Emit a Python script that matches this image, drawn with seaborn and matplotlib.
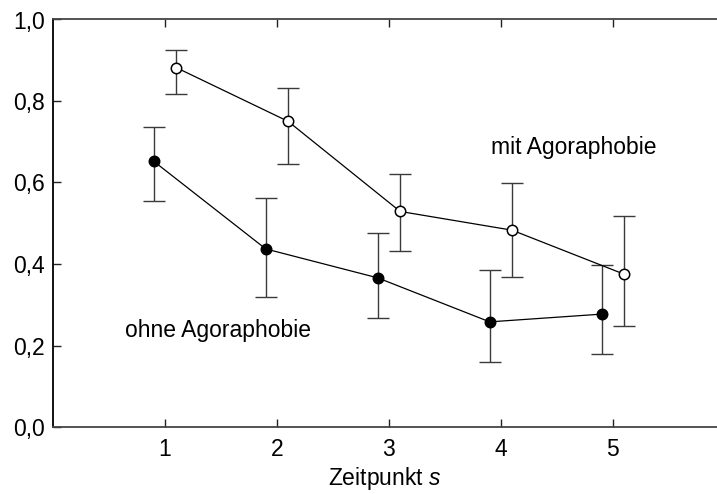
import numpy as np
import pandas as pd
import seaborn as sns
import matplotlib.pyplot as plt

# Zeitpunkte und Mittelwerte mit Fehlerbalken (untere / obere Grenze)
zeitpunkt = [1, 2, 3, 4, 5]

ohne_mean = [0.652, 0.437, 0.366, 0.258, 0.277]
ohne_low = [0.555, 0.319, 0.267, 0.160, 0.180]
ohne_high = [0.735, 0.562, 0.477, 0.386, 0.398]

mit_mean = [0.882, 0.750, 0.529, 0.483, 0.375]
mit_low = [0.818, 0.645, 0.433, 0.369, 0.249]
mit_high = [0.924, 0.832, 0.622, 0.599, 0.518]

sns.set_style("white")
plt.rcParams["font.family"] = ["Liberation Sans", "DejaVu Sans"]
plt.rcParams["mathtext.fontset"] = "custom"
plt.rcParams["mathtext.it"] = "Liberation Sans:italic"
plt.rcParams["mathtext.rm"] = "Liberation Sans"
plt.rcParams["text.color"] = "black"
plt.rcParams["axes.labelcolor"] = "black"
plt.rcParams["xtick.color"] = "black"
plt.rcParams["ytick.color"] = "black"

fs = 16.5

x = np.array(zeitpunkt, dtype=float)
df = pd.concat([
    pd.DataFrame({"x": x - 0.1, "y": ohne_mean, "gruppe": "ohne"}),
    pd.DataFrame({"x": x + 0.1, "y": mit_mean, "gruppe": "mit"}),
])

fig = plt.figure(figsize=(7.17, 4.94), dpi=100)
ax = fig.add_axes([53 / 717, 1 - 427 / 494, 1 - 53 / 717, (427 - 19.5) / 494])

for g, low, high, face in [("ohne", ohne_low, ohne_high, "black"),
                           ("mit", mit_low, mit_high, "white")]:
    d = df[df["gruppe"] == g]
    yv = d["y"].to_numpy()
    err = [yv - np.array(low), np.array(high) - yv]
    ax.errorbar(d["x"], yv, yerr=err, fmt="none", ecolor="#3a3a3a",
                elinewidth=1.0, capsize=8, capthick=1.0, zorder=1)
    sns.lineplot(data=d, x="x", y="y", ax=ax, color="black", linewidth=0.9,
                 marker="o", markersize=7.5, markerfacecolor=face,
                 markeredgecolor="black", markeredgewidth=1.1, zorder=3)

ax.text(4.65, 0.685, "mit Agoraphobie", fontsize=fs, ha="center", va="center")
ax.text(1.47, 0.238, "ohne Agoraphobie", fontsize=fs, ha="center", va="center")

ax.set_xlim(0, 5.93)
ax.set_ylim(0, 1.0)
ax.set_xticks(zeitpunkt)
ax.set_xticklabels([str(z) for z in zeitpunkt])
yt = [0.0, 0.2, 0.4, 0.6, 0.8, 1.0]
ax.set_yticks(yt)
ax.set_yticklabels([f"{v:.1f}".replace(".", ",") for v in yt])
ax.tick_params(axis="x", direction="in", top=True, bottom=True, length=6,
               width=1, labelsize=fs, pad=8, color="#222")
ax.tick_params(axis="y", direction="in", left=True, length=6, width=1,
               labelsize=fs, pad=6, color="#222")
ax.set_xlabel("Zeitpunkt $s$", fontsize=fs, labelpad=3)
ax.set_ylabel("")

for side in ["left", "top", "bottom"]:
    ax.spines[side].set_visible(True)
    ax.spines[side].set_color("#444")
    ax.spines[side].set_linewidth(1.3)
ax.spines["left"].set_color("black")
ax.spines["right"].set_visible(False)
if ax.get_legend():
    ax.get_legend().remove()

fig.savefig("out.png", dpi=100)
